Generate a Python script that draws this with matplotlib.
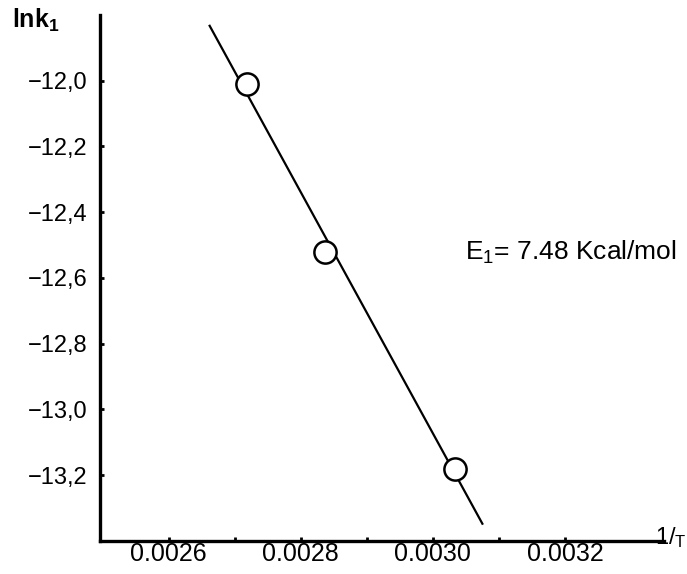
import numpy as np
import matplotlib
matplotlib.use("Agg")
from matplotlib import pyplot as plt

plt.rcParams['font.family'] = ['Liberation Sans', 'DejaVu Sans']

# measured points: reciprocal temperature vs ln k1
inv_T = [0.002718, 0.002837, 0.003034]
ln_k1 = [-12.01, -12.52, -13.18]

# x extent of the fitted line
fit_x = [0.002662, 0.003075]

x_major = [0.0026, 0.0028, 0.0030, 0.0032]
x_major_labels = ['0.0026', '0.0028', '0.0030', '0.0032']
x_minor = [0.0027, 0.0029, 0.0031]
y_ticks = [-12.0, -12.2, -12.4, -12.6, -12.8, -13.0, -13.2]
y_tick_labels = ['\u221212,0', '\u221212,2', '\u221212,4', '\u221212,6',
                 '\u221212,8', '\u221213,0', '\u221213,2']

# least squares line through the three points
slope, icept = np.polyfit(inv_T, ln_k1, 1)
fx = np.array(fit_x)

fig = plt.figure(figsize=(6.87, 5.74), dpi=100)
ax = fig.add_axes([0.1456, 0.0575, 0.8209, 0.9164])

ax.plot(fx, slope * fx + icept, color='black', lw=1.6, zorder=2)
ax.plot(inv_T, ln_k1, 'o', ms=16, mfc='white', mec='black', mew=1.8, zorder=3)

ax.set_xlim(0.002496, 0.00335)
ax.set_ylim(-13.4, -11.8)

for side in ['top', 'right']:
    ax.spines[side].set_visible(False)
for side in ['left', 'bottom']:
    ax.spines[side].set_linewidth(2.4)

ax.set_xticks(x_major)
ax.set_xticklabels(x_major_labels)
ax.set_xticks(x_minor, minor=True)
ax.set_yticks(y_ticks)
ax.set_yticklabels(y_tick_labels)
ax.tick_params(axis='both', which='both', direction='in', length=3, width=2)
ax.tick_params(axis='x', which='major', labelsize=18, pad=1)
ax.tick_params(axis='y', which='major', labelsize=17, pad=9)

# axis captions
fig.text(0.017, 0.965, 'lnk$_\\mathregular{1}$', fontsize=18, weight='bold',
         ha='left', va='center')
fig.text(0.999, 0.064, '$\\mathregular{1/_T}$', fontsize=17,
         ha='right', va='center')

ax.text(1.023, 0.549, 'E$_\\mathregular{1}$= 7.48 Kcal/mol', fontsize=19,
        transform=ax.transAxes, ha='right', va='center')

fig.savefig('out.png', dpi=100)
